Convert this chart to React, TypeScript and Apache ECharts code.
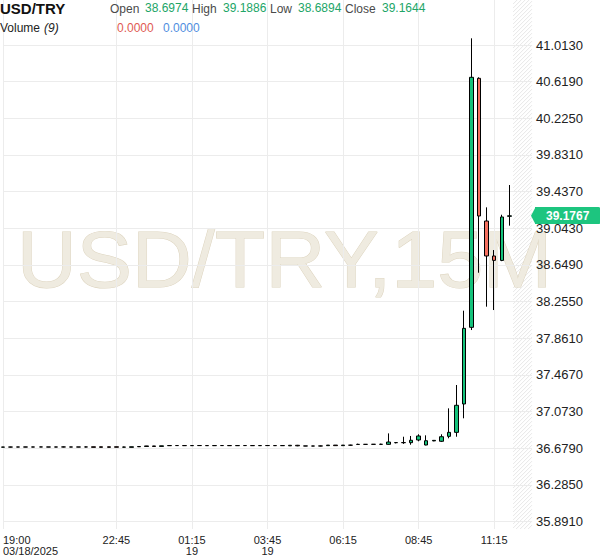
import React, { useEffect, useRef } from "react";
import * as echarts from "echarts";

const FONT = "Arial, 'Liberation Sans', sans-serif";

const symbolName = "USD/TRY";
const watermarkText = "USD/TRY,15M";
const volumeLabel = "Volume";
const volumeCount = "(9)";
const volumeValues = ["0.0000", "0.0000"];
const lastPrice = 39.1767;

// 15-minute bars from 19:00 (03/18/2025) to 11:45 (03/19)
const opens = [
  36.690, 36.691, 36.691, 36.692, 36.691, 36.692, 36.692, 36.691, 36.692, 36.692,
  36.691, 36.692, 36.694, 36.694, 36.694, 36.694, 36.690, 36.688, 36.694, 36.697,
  36.703, 36.698, 36.706, 36.707, 36.707, 36.706, 36.707, 36.707, 36.706, 36.707,
  36.707, 36.706, 36.707, 36.707, 36.706, 36.707, 36.707, 36.706, 36.704, 36.710,
  36.703, 36.702, 36.702, 36.706, 36.712, 36.706, 36.711, 36.719, 36.720, 36.720,
  36.721, 36.720, 36.738, 36.739, 36.738, 36.767, 36.713, 36.757, 36.753, 36.806,
  36.849, 37.154, 37.978, 40.655, 39.121, 38.745, 38.6974, 39.1720,
];
const closes = [
  36.691, 36.691, 36.692, 36.691, 36.692, 36.692, 36.691, 36.692, 36.692, 36.691,
  36.692, 36.692, 36.688, 36.688, 36.688, 36.689, 36.691, 36.694, 36.697, 36.703,
  36.697, 36.704, 36.707, 36.707, 36.706, 36.707, 36.707, 36.706, 36.707, 36.707,
  36.706, 36.707, 36.707, 36.706, 36.707, 36.707, 36.706, 36.707, 36.710, 36.704,
  36.702, 36.702, 36.703, 36.712, 36.706, 36.712, 36.711, 36.720, 36.720, 36.721,
  36.720, 36.745, 36.739, 36.738, 36.764, 36.810, 36.759, 36.763, 36.802, 36.849,
  37.140, 37.967, 40.666, 39.175, 38.745, 38.698, 39.1644, 39.1767,
];
const lows = [
  36.689, 36.688, 36.690, 36.690, 36.690, 36.691, 36.690, 36.690, 36.688, 36.690,
  36.690, 36.688, 36.687, 36.687, 36.687, 36.688, 36.686, 36.687, 36.693, 36.696,
  36.696, 36.697, 36.705, 36.706, 36.705, 36.705, 36.706, 36.705, 36.705, 36.706,
  36.705, 36.705, 36.706, 36.705, 36.705, 36.706, 36.705, 36.705, 36.703, 36.700,
  36.701, 36.701, 36.699, 36.705, 36.705, 36.705, 36.707, 36.718, 36.719, 36.719,
  36.715, 36.716, 36.731, 36.725, 36.716, 36.753, 36.710, 36.754, 36.745, 36.785,
  36.802, 37.000, 37.949, 38.565, 38.200, 38.164, 38.6894, 39.071,
];
const highs = [
  36.692, 36.694, 36.692, 36.693, 36.693, 36.693, 36.692, 36.693, 36.696, 36.693,
  36.692, 36.696, 36.695, 36.695, 36.695, 36.695, 36.695, 36.695, 36.698, 36.704,
  36.704, 36.705, 36.708, 36.708, 36.708, 36.708, 36.708, 36.707, 36.708, 36.708,
  36.707, 36.708, 36.708, 36.708, 36.708, 36.707, 36.708, 36.708, 36.711, 36.714,
  36.703, 36.703, 36.707, 36.713, 36.713, 36.713, 36.716, 36.727, 36.721, 36.722,
  36.727, 36.838, 36.745, 36.802, 36.810, 36.828, 36.817, 36.766, 36.828, 37.107,
  37.358, 38.157, 41.085, 40.666, 39.268, 38.809, 39.1886, 39.508,
];
const headerBarIndex = 66;
const futureSlots = 3;

const yMin = 35.81;
const yMax = 41.497;
const yTickValues = [
  35.891, 36.285, 36.679, 37.073, 37.467, 37.861, 38.255, 38.649, 39.043, 39.437,
  39.831, 40.225, 40.619, 41.013,
];
const xTickLabels = [
  "19:00\n03/18/2025", "22:45", "01:15\n19", "03:45\n19", "06:15", "08:45", "11:15",
];

const categories: string[] = [];
for (let i = 0; i < opens.length + futureSlots; i++) {
  const m = (19 * 60 + 15 * i) % (24 * 60);
  categories.push(
    String(Math.floor(m / 60)).padStart(2, "0") + ":" + String(m % 60).padStart(2, "0")
  );
}
const labelByIndex: Record<number, string> = {};
xTickLabels.forEach((l) => {
  const idx = categories.indexOf(l.split("\n")[0]);
  if (idx >= 0) labelByIndex[idx] = l;
});

const UP = "#14c27b";
const DOWN = "#f5705f";
const PRICE_BG = "#1dc57f";

export default function App() {
  const ref = useRef<HTMLDivElement>(null);
  useEffect(() => {
    const chart = echarts.init(ref.current!, null, { renderer: "svg" });
    const candleData: any[] = opens.map((o, i) => [o, closes[i], lows[i], highs[i]]);
    for (let k = 0; k < futureSlots; k++) candleData.push("-");

    chart.setOption({
      animation: false,
      grid: { left: 2, right: 68, top: 0, bottom: 29, containLabel: false },
      xAxis: {
        type: "category",
        data: categories,
        boundaryGap: false,
        axisLine: { show: false },
        axisTick: { show: false },
        axisLabel: {
          interval: (i: number) => labelByIndex[i] !== undefined,
          formatter: (_v: string, i: number) => labelByIndex[i] ?? "",
          color: "#222",
          fontSize: 11,
          lineHeight: 11,
          fontFamily: FONT,
          margin: 5,
          alignMinLabel: "left",
          showMinLabel: true,
        },
        splitLine: {
          show: true,
          interval: (i: number) => labelByIndex[i] !== undefined,
          lineStyle: { color: "#ececec", width: 1 },
        },
      },
      yAxis: {
        type: "value",
        position: "right",
        min: yMin,
        max: yMax,
        axisLine: { show: false },
        axisTick: { show: false, customValues: yTickValues },
        axisLabel: {
          customValues: yTickValues,
          formatter: (v: number) => v.toFixed(4),
          color: "#222",
          fontSize: 13,
          fontFamily: FONT,
          margin: 4,
        },
        splitLine: { show: true, lineStyle: { color: "#ececec", width: 1 } },
      },
      series: [
        {
          type: "candlestick",
          data: candleData,
          barWidth: 4,
          itemStyle: {
            color: UP,
            color0: DOWN,
            borderColor: "#000",
            borderColor0: "#000",
            borderWidth: 1,
          },
          markLine: {
            silent: true,
            symbol: ["none", "none"],
            lineStyle: { color: "transparent", width: 0, type: "solid" },
            data: [{ yAxis: lastPrice }],
            label: {
              show: true,
              position: "end",
              distance: 3,
              formatter: () => lastPrice.toFixed(4),
              backgroundColor: PRICE_BG,
              color: "#fff",
              opacity: 1,
              fontWeight: "bold",
              fontSize: 12,
              fontFamily: FONT,
              padding: [3, 11, 2, 11],
              borderRadius: [0, 2, 2, 0],
            },
          },
        },
      ],
    });

    const last = opens.length - 1;
    const pLast = chart.convertToPixel({ gridIndex: 0 }, [last, yMin]) as number[];
    const pNext = chart.convertToPixel({ gridIndex: 0 }, [last + 1, yMax]) as number[];
    const pEnd = chart.convertToPixel({ gridIndex: 0 }, [categories.length - 1, lastPrice]) as number[];
    const x0 = (pLast[0] + pNext[0]) / 2;
    const x1 = pEnd[0];
    const y0 = pNext[1];
    const y1 = pLast[1];
    const hatch: any[] = [];
    for (let c = x0 + y0; c <= x1 + y1; c += 4) {
      const xa = Math.max(x0, c - y1);
      const xb = Math.min(x1, c - y0);
      if (xb <= xa) continue;
      hatch.push({
        type: "line",
        silent: true,
        z: -2,
        shape: { x1: xa, y1: c - xa, x2: xb, y2: c - xb },
        style: { stroke: "#e8e8e8", lineWidth: 1 },
      });
    }
    const py = pEnd[1];

    const txt = (
      text: string, x: number, y: number, fill: string, size = 12,
      weight = "normal", style = "normal"
    ) => ({
      type: "text",
      x, y, z: 10, silent: true,
      style: {
        text, fill, fontSize: size, fontWeight: weight, fontStyle: style,
        fontFamily: FONT, align: "left", verticalAlign: "middle",
      },
    });
    const GREEN = "#21a567";
    const LABEL = "#4a4a4a";
    const hb = headerBarIndex;

    chart.setOption({
      graphic: [
        ...hatch,
        {
          type: "text",
          x: 17, y: 258.5, z: -1, silent: true, scaleX: 1.035,
          style: {
            text: watermarkText, fontSize: 80, fontFamily: FONT,
            fill: "#efebe0", stroke: "#ddd4bf", lineWidth: 1,
            align: "left", verticalAlign: "middle",
          },
        },
        {
          type: "polygon",
          silent: true,
          z: 20,
          shape: { points: [[x1 - 1, py], [x1 + 3.5, py - 8.5], [x1 + 3.5, py + 8.5]] },
          style: { fill: PRICE_BG },
        },
        txt(symbolName, 0, 8, "#111", 15, "bold"),
        txt("Open", 110, 9, LABEL),
        txt(opens[hb].toFixed(4), 145, 7.5, GREEN),
        txt("High", 192, 9, LABEL),
        txt(highs[hb].toFixed(4), 223, 7.5, GREEN),
        txt("Low", 270, 9, LABEL),
        txt(lows[hb].toFixed(4), 298, 7.5, GREEN),
        txt("Close", 345, 9, LABEL),
        txt(closes[hb].toFixed(4), 382, 7.5, GREEN),
        txt(volumeLabel, 0, 28, "#222", 12),
        txt(volumeCount, 44, 28, "#222", 12, "normal", "italic"),
        txt(volumeValues[0], 117, 27.5, "#e05a52", 12),
        txt(volumeValues[1], 163, 27.5, "#4f8ee0", 12),
      ],
    });

    return () => chart.dispose();
  }, []);
  return (
    <div
      ref={ref}
      style={{ position: "absolute", left: 0, top: 0, width: 600, height: 558 }}
    />
  );
}
